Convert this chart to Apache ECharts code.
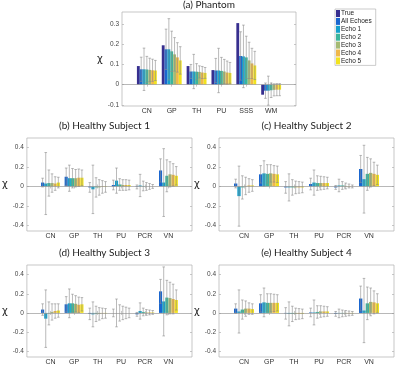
<!DOCTYPE html>
<html><head><meta charset="utf-8">
<script src="https://cdn.jsdelivr.net/npm/echarts@6/dist/echarts.min.js"></script>
<style>html,body{margin:0;padding:0;background:#fff}#c{width:400px;height:367px}</style>
</head><body><div id="c"></div>
<script>
// ---- data ----
const phantomCats = ['CN','GP','TH','PU','SSS','WM'];
const subjectCats = ['CN','GP','TH','PU','PCR','VN'];
const seriesNames = ['True','All Echoes','Echo 1','Echo 2','Echo 3','Echo 4','Echo 5'];
const phantomTicks = [-0.1, 0, 0.1, 0.2, 0.3];
const subjectTicks = [-0.4, -0.2, 0, 0.2, 0.4];

// rows: True, All Echoes, Echo 1..5 ; columns: categories
const phantomMean = [
  [0.092, 0.195, 0.092, 0.072, 0.305, -0.050],
  [0.076, 0.175, 0.065, 0.070, 0.142, -0.030],
  [0.076, 0.175, 0.065, 0.070, 0.140, -0.030],
  [0.075, 0.165, 0.064, 0.068, 0.135, -0.028],
  [0.073, 0.150, 0.063, 0.065, 0.120, -0.026],
  [0.071, 0.135, 0.060, 0.060, 0.105, -0.025],
  [0.070, 0.120, 0.058, 0.058, 0.095, -0.025]
];
const phantomSD = [
  null,
  [0.060, 0.100, 0.035, 0.060, 0.120, 0.038],
  [0.105, 0.152, 0.085, 0.110, 0.155, 0.072],
  [0.065, 0.100, 0.040, 0.067, 0.105, 0.036],
  [0.058, 0.083, 0.030, 0.060, 0.090, 0.030],
  [0.055, 0.073, 0.030, 0.057, 0.075, 0.030],
  [0.050, 0.068, 0.027, 0.052, 0.070, 0.030]
];
// rows: All Echoes, Echo 1..5
const subject1Mean = [
  [0.040, 0.100, -0.010, 0.015, -0.005, 0.165],
  [0.030, 0.085, -0.030, 0.060, 0.010, 0.040],
  [0.035, 0.085, -0.010, 0.020, 0.005, 0.110],
  [0.035, 0.085, -0.010, 0.015, 0.000, 0.125],
  [0.030, 0.090, -0.005, 0.015, 0.000, 0.120],
  [0.040, 0.090, -0.005, 0.015, 0.000, 0.110]
];
const subject1SD = [
  [0.045, 0.090, 0.050, 0.050, 0.020, 0.120],
  [0.320, 0.135, 0.250, 0.130, 0.115, 0.350],
  [0.135, 0.100, 0.100, 0.060, 0.050, 0.165],
  [0.095, 0.090, 0.080, 0.055, 0.040, 0.130],
  [0.070, 0.090, 0.065, 0.055, 0.030, 0.115],
  [0.055, 0.080, 0.055, 0.050, 0.020, 0.095]
];
const subject2Mean = [
  [0.030, 0.125, -0.010, 0.025, -0.010, 0.180],
  [-0.100, 0.135, -0.010, 0.040, 0.010, 0.075],
  [-0.010, 0.130, -0.010, 0.035, 0.010, 0.130],
  [0.005, 0.135, -0.010, 0.035, 0.005, 0.140],
  [0.010, 0.130, -0.010, 0.035, 0.005, 0.130],
  [0.010, 0.125, -0.010, 0.035, 0.000, 0.120]
];
const subject2SD = [
  [0.045, 0.090, 0.060, 0.060, 0.020, 0.140],
  [0.310, 0.130, 0.140, 0.130, 0.065, 0.350],
  [0.120, 0.095, 0.080, 0.075, 0.040, 0.170],
  [0.090, 0.090, 0.065, 0.070, 0.030, 0.145],
  [0.070, 0.085, 0.060, 0.065, 0.020, 0.120],
  [0.060, 0.085, 0.055, 0.060, 0.015, 0.100]
];
const subject3Mean = [
  [0.035, 0.090, -0.010, 0.000, -0.015, 0.225],
  [-0.060, 0.100, -0.015, 0.000, 0.020, 0.120],
  [-0.005, 0.100, -0.010, 0.000, 0.010, 0.160],
  [0.010, 0.095, -0.010, 0.000, 0.005, 0.155],
  [0.020, 0.085, -0.005, 0.000, 0.005, 0.145],
  [0.025, 0.090, -0.005, 0.000, 0.005, 0.135]
];
const subject3SD = [
  [0.060, 0.080, 0.060, 0.040, 0.020, 0.125],
  [0.300, 0.150, 0.130, 0.145, 0.085, 0.360],
  [0.120, 0.095, 0.080, 0.085, 0.040, 0.180],
  [0.085, 0.085, 0.065, 0.070, 0.030, 0.165],
  [0.075, 0.080, 0.055, 0.060, 0.025, 0.155],
  [0.070, 0.070, 0.050, 0.050, 0.020, 0.105]
];
const subject4Mean = [
  [0.045, 0.100, -0.005, 0.005, -0.010, 0.150],
  [0.015, 0.110, -0.010, 0.005, -0.005, 0.025],
  [0.035, 0.105, -0.010, 0.010, -0.005, 0.100],
  [0.045, 0.105, -0.010, 0.015, -0.005, 0.115],
  [0.045, 0.105, -0.010, 0.015, -0.005, 0.110],
  [0.040, 0.105, -0.010, 0.015, -0.005, 0.100]
];
const subject4SD = [
  [0.050, 0.090, 0.060, 0.045, 0.025, 0.130],
  [0.225, 0.150, 0.125, 0.130, 0.045, 0.335],
  [0.100, 0.095, 0.080, 0.065, 0.035, 0.170],
  [0.080, 0.095, 0.060, 0.060, 0.030, 0.145],
  [0.060, 0.090, 0.055, 0.055, 0.025, 0.120],
  [0.055, 0.085, 0.050, 0.050, 0.020, 0.100]
];

// ---- style / layout ----
const colors = ['#372f8f','#1a66cf','#14a0cc','#3bb59c','#a5ba74','#efb84a','#f2e31e'];
const panels = [
  {title:'(a) Phantom', cats:phantomCats, mean:phantomMean, sd:phantomSD, names:seriesNames, cols:colors, min:-0.106, max:0.36, ticks:phantomTicks,
   grid:{left:122, top:12, width:174, height:94}, titleTop:0, nameGap:12},
  {title:'(b) Healthy Subject 1', cats:subjectCats, mean:subject1Mean, sd:subject1SD, names:seriesNames.slice(1), cols:colors.slice(1), min:-0.46, max:0.5, ticks:subjectTicks,
   grid:{left:17, top:138, width:175, height:93}, titleTop:121, nameGap:11},
  {title:'(c) Healthy Subject 2', cats:subjectCats, mean:subject2Mean, sd:subject2SD, names:seriesNames.slice(1), cols:colors.slice(1), min:-0.46, max:0.5, ticks:subjectTicks,
   grid:{left:219, top:138, width:175, height:93}, titleTop:121, nameGap:11},
  {title:'(d) Healthy Subject 3', cats:subjectCats, mean:subject3Mean, sd:subject3SD, names:seriesNames.slice(1), cols:colors.slice(1), min:-0.46, max:0.5, ticks:subjectTicks,
   grid:{left:17, top:265, width:175, height:92}, titleTop:248, nameGap:11},
  {title:'(e) Healthy Subject 4', cats:subjectCats, mean:subject4Mean, sd:subject4SD, names:seriesNames.slice(1), cols:colors.slice(1), min:-0.46, max:0.5, ticks:subjectTicks,
   grid:{left:219, top:265, width:175, height:92}, titleTop:248, nameGap:11}
];

const frameColor = '#b0b0b0';
const labelFont = 'Liberation Sans';
const fmt = v => Math.abs(v) < 1e-9 ? '0' : String(+v.toFixed(2));

const option = {
  animation:false,
  backgroundColor:'#fff',
  title:[], grid:[], xAxis:[], yAxis:[], series:[],
  legend:{
    data:seriesNames, left:335, top:9, orient:'vertical', icon:'rect',
    itemWidth:4, itemHeight:7, itemGap:0.9, selectedMode:false,
    padding:[1,4,1,1], borderColor:'#aaa', borderWidth:0.6,
    textStyle:{fontSize:6.5, color:'#222', fontFamily:labelFont, padding:[0,0,0,-4]}
  }
};

panels.forEach((p, gi) => {
  const padCats = [''].concat(p.cats, ['']);
  const g = p.grid;
  option.title.push({text:p.title, left:g.left + g.width/2, top:p.titleTop, textAlign:'center', padding:0,
    textStyle:{fontSize:10, fontWeight:'normal', color:'#222', fontFamily:'Lato'}});
  option.grid.push({left:g.left, top:g.top, width:g.width, height:g.height, show:true, borderColor:frameColor, borderWidth:0.7, containLabel:false});
  const tickIdx = (i) => i > 0 && i < padCats.length - 1;
  const xi = option.xAxis.length;
  option.xAxis.push({type:'category', gridIndex:gi, data:padCats, boundaryGap:false, position:'bottom',
    axisLine:{show:false}, axisTick:{show:true, inside:true, length:2, interval:tickIdx, lineStyle:{color:frameColor, width:0.7}},
    axisLabel:{show:true, interval:0, fontSize:7, color:'#333', margin:2, fontFamily:labelFont}, splitLine:{show:false}});
  option.xAxis.push({type:'category', gridIndex:gi, data:padCats, boundaryGap:false, position:'top',
    axisLine:{show:false}, axisTick:{show:true, inside:true, length:2, interval:tickIdx, lineStyle:{color:frameColor, width:0.7}},
    axisLabel:{show:false}, splitLine:{show:false}});
  const yi = option.yAxis.length;
  option.yAxis.push({type:'value', gridIndex:gi, min:p.min, max:p.max, position:'left',
    name:'χ', nameLocation:'middle', nameRotate:0, nameGap:p.nameGap,
    nameTextStyle:{fontSize:10, color:'#222', fontFamily:'DejaVu Sans'},
    axisLine:{show:false}, axisTick:{show:true, inside:true, length:2, customValues:p.ticks, lineStyle:{color:frameColor, width:0.7}},
    axisLabel:{show:true, customValues:p.ticks, formatter:fmt, fontSize:6.5, color:'#444', margin:3, fontFamily:labelFont},
    splitLine:{show:false}});
  option.yAxis.push({type:'value', gridIndex:gi, min:p.min, max:p.max, position:'right',
    axisLine:{show:false}, axisTick:{show:true, inside:true, length:2, customValues:p.ticks, lineStyle:{color:frameColor, width:0.7}},
    axisLabel:{show:false}, splitLine:{show:false}});

  const n = p.names.length;
  p.names.forEach((name, si) => {
    const s = {type:'bar', name:name, xAxisIndex:xi, yAxisIndex:yi,
      data:[null].concat(p.mean[si], [null]),
      barGap:'0%', barCategoryGap:'20%',
      itemStyle:{color:p.cols[si]}, silent:true};
    if (si === 0) {
      s.markLine = {silent:true, symbol:'none', label:{show:false},
        lineStyle:{color:'#9a9a9a', width:0.7, type:'solid'}, data:[{yAxis:0}]};
    }
    option.series.push(s);
  });
  const errData = [];
  p.sd.forEach((row, si) => {
    if (!row) return;
    row.forEach((sd, j) => errData.push([j + 1, p.mean[si][j], sd, si, n]));
  });
  option.series.push({type:'custom', xAxisIndex:xi, yAxisIndex:yi, data:errData, silent:true, z:5,
    renderItem:(params, api) => {
      const ci = api.value(0), m = api.value(1), sd = api.value(2), si = api.value(3), nn = api.value(4);
      const band = api.size([1, 0])[0];
      const bw = band * 0.8 / nn;
      const c = api.coord([ci, m]);
      const x = c[0] - band * 0.4 + bw * (si + 0.5);
      const yt = api.coord([ci, m + sd])[1];
      const yb = api.coord([ci, m - sd])[1];
      const cap = 1.3;
      const st = {stroke:'#8c8c8c', lineWidth:0.6};
      return {type:'group', children:[
        {type:'line', shape:{x1:x, y1:yt, x2:x, y2:yb}, style:st},
        {type:'line', shape:{x1:x - cap, y1:yt, x2:x + cap, y2:yt}, style:st},
        {type:'line', shape:{x1:x - cap, y1:yb, x2:x + cap, y2:yb}, style:st}
      ]};
    }});
});

const chart = echarts.init(document.getElementById('c'), null, {renderer:'canvas'});
chart.setOption(option);
</script>
</body></html>
